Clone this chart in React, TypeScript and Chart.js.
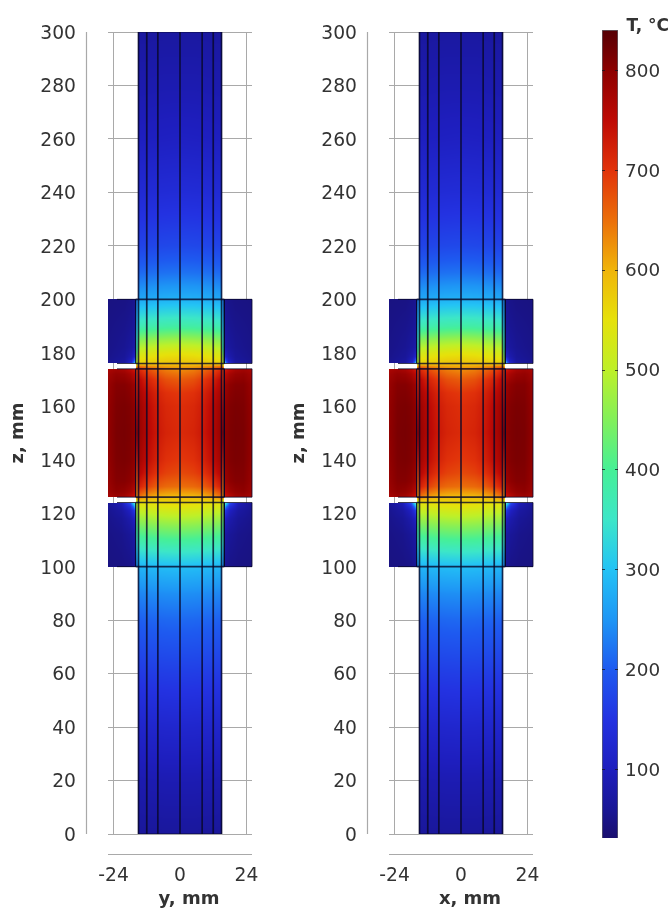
import React, { useEffect, useRef } from "react";
import { Chart, registerables } from "chart.js";

Chart.register(...registerables);

const FONT = "'DejaVu Sans'";
const INK = "#333333";
const GRID = "#a9a9a9";
const LINE = "rgba(8,8,40,0.8)";

const zTicks = [0, 20, 40, 60, 80, 100, 120, 140, 160, 180, 200, 220, 240, 260, 280, 300];
const lateralTicks = [-24, 0, 24];
const colorbarTicks = [100, 200, 300, 400, 500, 600, 700, 800];
const colorbarRange = [31, 840];

const colormapT = [31, 60, 100, 150, 200, 250, 300, 350, 400, 450, 500, 550, 600, 650, 700, 750, 800, 840];
const colormapRGB = [
  [25, 15, 110], [25, 22, 150], [30, 30, 190], [35, 50, 225], [30, 90, 240], [30, 150, 245],
  [35, 195, 245], [60, 230, 200], [70, 240, 150], [130, 240, 90], [190, 240, 40], [230, 225, 10],
  [240, 180, 10], [235, 110, 10], [225, 50, 10], [190, 10, 5], [140, 0, 0], [85, 0, 5],
];

// Rod: temperature against z and distance from the axis
const rodLateral = [0, 5, 9, 12.5, 15];
const rodZ = [0, 20, 40, 60, 80, 90, 100, 105, 110, 115, 120, 124, 126, 130, 135, 140, 150, 160, 165, 170, 174, 176, 180, 185, 190, 195, 200, 210, 220, 230, 240, 260, 280, 300];
const rodT = [
  [66, 66, 65, 65, 64],
  [88, 88, 87, 86, 85],
  [122, 121, 120, 119, 117],
  [165, 164, 163, 161, 158],
  [212, 211, 209, 207, 203],
  [245, 244, 242, 239, 236],
  [295, 293, 291, 287, 283],
  [345, 343, 340, 335, 331],
  [400, 398, 394, 388, 384],
  [455, 453, 448, 442, 437],
  [515, 512, 507, 500, 496],
  [565, 561, 556, 552, 552],
  [590, 592, 600, 620, 648],
  [650, 655, 668, 695, 725],
  [680, 688, 705, 735, 765],
  [695, 703, 725, 755, 782],
  [710, 718, 738, 768, 792],
  [705, 713, 732, 762, 788],
  [695, 703, 722, 750, 778],
  [665, 675, 698, 725, 758],
  [625, 635, 655, 682, 712],
  [585, 583, 578, 572, 568],
  [545, 542, 536, 528, 522],
  [470, 467, 462, 455, 449],
  [385, 383, 379, 374, 369],
  [330, 329, 326, 322, 318],
  [280, 279, 276, 272, 268],
  [220, 219, 217, 214, 211],
  [178, 177, 175, 173, 171],
  [155, 154, 153, 151, 149],
  [135, 134, 133, 131, 130],
  [106, 105, 104, 103, 102],
  [86, 86, 85, 84, 84],
  [70, 70, 70, 69, 69],
];

// Thin strip beside the rod inside the holders
const sleeveLateral = [15, 16];
const sleeveZ = [100, 124, 126, 150, 174, 176, 182, 190, 200];
const sleeveT = [
  [270, 230], [530, 480], [640, 620], [785, 775], [705, 680], [540, 490], [420, 350], [340, 285], [262, 215],
];

// Upper holder
const upperLateral = [16, 16.6, 17.5, 20, 26];
const upperZ = [176, 177, 178.5, 182, 190, 200];
const upperT = [
  [420, 260, 130, 70, 55],
  [300, 170, 105, 68, 54],
  [140, 108, 85, 63, 52],
  [85, 76, 68, 58, 50],
  [68, 63, 58, 53, 48],
  [58, 55, 51, 47, 45],
];

// Heated middle block
const middleLateral = [16, 18, 20, 23, 26];
const middleZ = [126, 128, 132, 140, 150, 160, 168, 172, 174];
const middleT = [
  [730, 755, 775, 782, 772],
  [752, 780, 792, 797, 782],
  [780, 798, 805, 805, 788],
  [795, 808, 812, 810, 793],
  [798, 810, 814, 812, 795],
  [795, 808, 812, 810, 793],
  [780, 798, 805, 805, 788],
  [748, 775, 787, 792, 778],
  [720, 748, 768, 777, 768],
];

// Lower holder
const lowerLateral = [16, 16.8, 18, 21, 26];
const lowerZ = [100, 112, 118, 121, 122.5, 124];
const lowerT = [
  [60, 56, 50, 47, 45],
  [78, 70, 62, 53, 48],
  [120, 98, 82, 62, 52],
  [190, 140, 105, 72, 55],
  [320, 220, 140, 85, 58],
  [450, 330, 190, 95, 60],
];

const rodLineX = [-15, -12, -8, 0, 8, 12, 15];
const sleeveLineX = [-16, 16];
const crossLineZ = [100, 124, 126, 174, 176, 200];
const blockOutlines = [
  [-26, -16, 176, 200], [16, 26, 176, 200],
  [-26, -16, 126, 174], [16, 26, 126, 174],
  [-26, -16, 100, 124], [16, 26, 100, 124],
];

function lookup(axis: number[], v: number): [number, number] {
  let i = 0;
  while (i < axis.length - 2 && v > axis[i + 1]) i++;
  const f = (v - axis[i]) / (axis[i + 1] - axis[i]);
  return [i, Math.max(0, Math.min(1, f))];
}

function colorOf(t: number): number[] {
  const [i, f] = lookup(colormapT, t);
  const a = colormapRGB[i];
  const b = colormapRGB[i + 1];
  return [a[0] + (b[0] - a[0]) * f, a[1] + (b[1] - a[1]) * f, a[2] + (b[2] - a[2]) * f];
}

function heatDataset(lateral: number[], zs: number[], table: number[][], xMin: number, xMax: number) {
  const data: any[] = [];
  zs.forEach((z, r) =>
    lateral.forEach((l, c) => {
      if (l >= xMin && l <= xMax) data.push({ x: l, y: z, v: table[r][c] });
      if (-l >= xMin && -l <= xMax && l !== 0) data.push({ x: -l, y: z, v: table[r][c] });
    })
  );
  return { type: "scatter", data, pointRadius: 0, showLine: false, heat: { lateral, zs, table, xMin, xMax } };
}

const heatPlugin = {
  id: "heat",
  beforeDatasetsDraw(chart: any) {
    const xs = chart.scales.x;
    const ys = chart.scales.y;
    const ctx = chart.ctx;
    chart.data.datasets.forEach((ds: any) => {
      if (!ds.heat) return;
      const { lateral, zs, table, xMin, xMax } = ds.heat;
      const x0 = Math.round(xs.getPixelForValue(xMin));
      const x1 = Math.round(xs.getPixelForValue(xMax));
      const y0 = Math.round(ys.getPixelForValue(zs[zs.length - 1]));
      const y1 = Math.round(ys.getPixelForValue(zs[0]));
      const w = x1 - x0;
      const h = y1 - y0;
      const img = ctx.createImageData(w, h);
      for (let py = 0; py < h; py++) {
        const z = ys.getValueForPixel(y0 + py + 0.5);
        const [r, fr] = lookup(zs, z);
        for (let px = 0; px < w; px++) {
          const l = Math.abs(xs.getValueForPixel(x0 + px + 0.5));
          const [c, fc] = lookup(lateral, l);
          const top = table[r][c] + (table[r][c + 1] - table[r][c]) * fc;
          const bot = table[r + 1][c] + (table[r + 1][c + 1] - table[r + 1][c]) * fc;
          const rgb = colorOf(top + (bot - top) * fr);
          const k = (py * w + px) * 4;
          img.data[k] = rgb[0];
          img.data[k + 1] = rgb[1];
          img.data[k + 2] = rgb[2];
          img.data[k + 3] = 255;
        }
      }
      const off = document.createElement("canvas");
      off.width = w;
      off.height = h;
      off.getContext("2d")!.putImageData(img, 0, 0);
      ctx.drawImage(off, x0, y0);
    });
  },
};

const axisLinePlugin = {
  id: "axisLines",
  afterLayout(chart: any) {
    chart.scales.x.left += 9; // the lateral axis title sits right of the axis centre
    chart.scales.x.right += 9;
  },
  beforeDatasetsDraw(chart: any) {
    const { ctx, chartArea } = chart;
    const ys = chart.scales.y;
    ctx.save();
    ctx.strokeStyle = GRID;
    ctx.lineWidth = 1.2;
    ctx.beginPath();
    const ax = chartArea.left - 21.5;
    ctx.moveTo(ax, ys.getPixelForValue(300));
    ctx.lineTo(ax, ys.getPixelForValue(0));
    const by = chartArea.bottom + 20.5;
    ctx.moveTo(chartArea.left, by);
    ctx.lineTo(chartArea.right, by);
    ctx.stroke();
    ctx.restore();
  },
};

function lineDataset(points: number[][], width = 1.7) {
  return {
    type: "scatter",
    data: points.map(([x, y]) => ({ x, y })),
    showLine: true,
    fill: false,
    borderColor: LINE,
    borderWidth: width,
    pointRadius: 0,
    tension: 0,
  };
}

const noScalePadding = (s: any) => {
  s.paddingLeft = 0;
  s.paddingRight = 0;
  s.paddingTop = 0;
  s.paddingBottom = 0;
};

function panelConfig(title: string): any {
  const datasets: any[] = [
    heatDataset(middleLateral, middleZ, middleT, -26, -16),
    heatDataset(middleLateral, middleZ, middleT, 16, 26),
    heatDataset(upperLateral, upperZ, upperT, -26, -16),
    heatDataset(upperLateral, upperZ, upperT, 16, 26),
    heatDataset(lowerLateral, lowerZ, lowerT, -26, -16),
    heatDataset(lowerLateral, lowerZ, lowerT, 16, 26),
    heatDataset(sleeveLateral, sleeveZ, sleeveT, -16, -15),
    heatDataset(sleeveLateral, sleeveZ, sleeveT, 15, 16),
    heatDataset(rodLateral, rodZ, rodT, -15, 15),
    ...rodLineX.map((x) => lineDataset([[x, 0], [x, 300]])),
    ...sleeveLineX.map((x) => lineDataset([[x, 100], [x, 124]], 1)),
    ...sleeveLineX.map((x) => lineDataset([[x, 176], [x, 200]], 1)),
    ...sleeveLineX.map((x) => lineDataset([[x, 126], [x, 174]], 1)),
    ...crossLineZ.map((z) => lineDataset([[-16, z], [16, z]])),
    lineDataset([[-15, 0], [15, 0]], 1),
    lineDataset([[-15, 300], [15, 300]], 1),
    ...blockOutlines.map(([a, b, c, d]) => lineDataset([[a, c], [b, c], [b, d], [a, d], [a, c]], 1)),
  ];
  return {
    type: "scatter",
    data: { datasets },
    plugins: [heatPlugin, axisLinePlugin],
    options: {
      animation: false,
      responsive: false,
      events: [],
      layout: { padding: { top: 32, right: 28, left: 0, bottom: 0 } },
      plugins: { legend: { display: false }, tooltip: { enabled: false } },
      scales: {
        x: {
          type: "linear",
          min: -26,
          max: 26,
          afterBuildTicks: (s: any) => { s.ticks = lateralTicks.map((value) => ({ value })); },
          afterFit: (s: any) => { s.height = 74; noScalePadding(s); },
          grid: { color: GRID, lineWidth: 1, drawTicks: false },
          border: { display: false },
          ticks: { font: { family: FONT, size: 18.7 }, color: INK, padding: 31, maxRotation: 0, autoSkip: false },
          title: { display: true, text: title, font: { family: FONT, size: 18, weight: "bold" }, color: INK, padding: { top: 0, bottom: -2 } },
        },
        y: {
          type: "linear",
          min: 0,
          max: 300,
          afterBuildTicks: (s: any) => { s.ticks = zTicks.map((value) => ({ value })); },
          afterFit: (s: any) => { s.width = 108; noScalePadding(s); },
          grid: { color: GRID, lineWidth: 1, drawTicks: false },
          border: { display: false },
          ticks: { font: { family: FONT, size: 18.7 }, color: INK, padding: 32, labelOffset: 2, autoSkip: false },
          title: { display: true, text: "z, mm", font: { family: FONT, size: 18, weight: "bold" }, color: INK, padding: { top: 8, bottom: 0 } },
        },
      },
    },
  };
}

const colorbarTickPlugin = {
  id: "colorbarTicks",
  afterDatasetsDraw(chart: any) {
    const { ctx, chartArea } = chart;
    const ys = chart.scales.y;
    ctx.save();
    ctx.strokeStyle = "rgba(20,20,30,0.75)";
    ctx.lineWidth = 1;
    colorbarTicks.forEach((t) => {
      const y = Math.round(ys.getPixelForValue(t)) + 0.5;
      ctx.beginPath();
      ctx.moveTo(chartArea.left, y);
      ctx.lineTo(chartArea.left + 3, y);
      ctx.moveTo(chartArea.right - 3, y);
      ctx.lineTo(chartArea.right, y);
      ctx.stroke();
    });
    ctx.restore();
  },
};

function colorbarConfig(): any {
  return {
    type: "bar",
    data: {
      labels: ["T"],
      datasets: [
        {
          data: [colorbarRange],
          barPercentage: 1,
          categoryPercentage: 1,
          borderWidth: 1,
          borderColor: "rgba(60,60,70,0.8)",
          backgroundColor: (c: any) => {
            const s = c.chart.scales.y;
            const p0 = s ? s.getPixelForValue(colorbarRange[0]) : NaN;
            const p1 = s ? s.getPixelForValue(colorbarRange[1]) : NaN;
            if (!Number.isFinite(p0) || !Number.isFinite(p1)) return "#888";
            const g = c.chart.ctx.createLinearGradient(0, p0, 0, p1);
            colormapT.forEach((t, i) => {
              const [r, gg, b] = colormapRGB[i];
              g.addColorStop((t - colorbarRange[0]) / (colorbarRange[1] - colorbarRange[0]), `rgb(${r},${gg},${b})`);
            });
            return g;
          },
        },
      ],
    },
    plugins: [colorbarTickPlugin],
    options: {
      animation: false,
      responsive: false,
      events: [],
      layout: { padding: { left: 42, bottom: 70, right: 0, top: 0 } },
      plugins: {
        legend: { display: false },
        tooltip: { enabled: false },
        title: {
          display: true,
          text: "T, °C",
          align: "end",
          font: { family: FONT, size: 17, weight: "bold" },
          color: INK,
          padding: { top: 16, bottom: -6.4 },
        },
      },
      scales: {
        x: { display: false },
        y: {
          position: "right",
          min: colorbarRange[0],
          max: colorbarRange[1],
          afterBuildTicks: (s: any) => { s.ticks = colorbarTicks.map((value) => ({ value })); },
          afterFit: (s: any) => { s.width = 51; noScalePadding(s); },
          grid: { display: false, drawTicks: false },
          border: { display: false },
          ticks: { font: { family: FONT, size: 18.4 }, color: INK, padding: 7, labelOffset: 2, autoSkip: false },
        },
      },
    },
  };
}

function ChartCanvas({ config, left, width }: { config: () => any; left: number; width: number }) {
  const ref = useRef<HTMLCanvasElement>(null);
  useEffect(() => {
    const chart = new Chart(ref.current!, config());
    return () => chart.destroy();
  }, []);
  return (
    <canvas
      ref={ref}
      width={width}
      height={908}
      style={{ position: "absolute", left, top: 0, width, height: 908, filter: "blur(0.5px)" }}
    />
  );
}

export default function App() {
  return (
    <div style={{ position: "absolute", left: 0, top: 0, width: 671, height: 908, background: "#fff", overflow: "hidden" }}>
      <ChartCanvas config={() => panelConfig("y, mm")} left={0} width={280} />
      <ChartCanvas config={() => panelConfig("x, mm")} left={281} width={280} />
      <ChartCanvas config={colorbarConfig} left={560} width={109} />
    </div>
  );
}
